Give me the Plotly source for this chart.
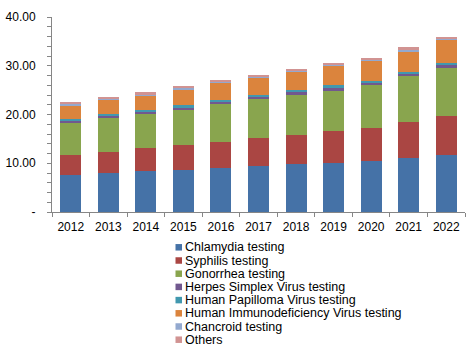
import plotly.graph_objects as go

years = ["2012", "2013", "2014", "2015", "2016", "2017", "2018", "2019", "2020", "2021", "2022"]
chlamydia = [7.6, 8.0, 8.4, 8.7, 9.1, 9.5, 9.9, 10.05, 10.5, 11.1, 11.7]
syphilis = [4.1, 4.3, 4.8, 5.0, 5.3, 5.7, 5.9, 6.55, 6.8, 7.4, 8.0]
gonorrhea = [6.5, 7.0, 7.1, 7.4, 7.8, 8.0, 8.4, 8.4, 8.75, 9.4, 9.8]
herpes = [0.5, 0.4, 0.3, 0.4, 0.4, 0.4, 0.4, 0.4, 0.45, 0.4, 0.65]
hpv = [0.4, 0.4, 0.4, 0.4, 0.4, 0.4, 0.5, 0.6, 0.4, 0.5, 0.45]
hiv = [2.8, 2.9, 2.9, 3.3, 3.5, 3.55, 3.7, 3.95, 4.1, 4.2, 4.7]
chancroid = [0.27, 0.2, 0.3, 0.4, 0.2, 0.25, 0.2, 0.2, 0.2, 0.3, 0.2]
others = [0.2, 0.4, 0.4, 0.25, 0.2, 0.3, 0.3, 0.45, 0.4, 0.55, 0.4]

series_names = [
    "Chlamydia testing",
    "Syphilis testing",
    "Gonorrhea testing",
    "Herpes Simplex Virus testing",
    "Human Papilloma Virus testing",
    "Human Immunodeficiency Virus testing",
    "Chancroid testing",
    "Others",
]
series_values = [chlamydia, syphilis, gonorrhea, herpes, hpv, hiv, chancroid, others]
series_colors = ["#4572A7", "#AA4643", "#89A54E", "#71588F", "#4198AF", "#DB843D", "#93A9CF", "#D19392"]

y_tickvals = [0, 10, 20, 30, 40]
y_ticktext = ["-", "10.00", "20.00", "30.00", "40.00"]

W, H = 473, 348
L, R, T, B = 52, 8, 17, 136
pw, ph = W - L - R, H - T - B


def px_to_paper(px, py):
    return (px - L) / pw, (H - B - py) / ph


fig = go.Figure()
for name, vals, color in zip(series_names, series_values, series_colors):
    fig.add_trace(go.Bar(x=years, y=vals, name=name, showlegend=False,
                         marker=dict(color=color, line=dict(width=0))))

# Manual compact legend (below the plot)
leg_x_sq = 175.5
leg_x_txt = 184
leg_y0 = 247.3
leg_dy = 13.2
sq = 6.5
for i, (name, color) in enumerate(zip(series_names, series_colors)):
    cy = leg_y0 + i * leg_dy
    x0, y0 = px_to_paper(leg_x_sq, cy + sq / 2)
    x1, y1 = px_to_paper(leg_x_sq + sq, cy - sq / 2)
    fig.add_shape(type="rect", xref="paper", yref="paper", x0=x0, y0=y0, x1=x1, y1=y1,
                  fillcolor=color, line=dict(width=0))
    tx, ty = px_to_paper(leg_x_txt, cy)
    fig.add_annotation(xref="paper", yref="paper", x=tx, y=ty, text=name, showarrow=False,
                       xanchor="left", yanchor="middle", borderpad=0,
                       font=dict(size=12.5, color="black"))

font = "Liberation Sans, Arial, sans-serif"
fig.update_layout(
    barmode="stack",
    bargap=0.44,
    width=W,
    height=H,
    margin=dict(l=L, r=R, t=T, b=B, autoexpand=False),
    paper_bgcolor="white",
    plot_bgcolor="white",
    font=dict(family=font, size=12, color="black"),
    showlegend=False,
    xaxis=dict(
        showline=True, linecolor="#868686", linewidth=1,
        ticks="outside", tickson="boundaries", ticklen=4, tickcolor="#868686",
        showgrid=False, tickfont=dict(size=12), ticklabelstandoff=4,
    ),
    yaxis=dict(
        range=[0, 40], showline=True, linecolor="#868686", linewidth=1,
        tickvals=y_tickvals, ticktext=y_ticktext,
        ticks="outside", ticklen=4, tickcolor="#868686",
        showgrid=False, zeroline=False, tickfont=dict(size=12), ticklabelstandoff=9,
        minor=dict(dtick=2, ticks="outside", ticklen=4, tickcolor="#868686", showgrid=False),
    ),
)

fig.write_html("out.html")
